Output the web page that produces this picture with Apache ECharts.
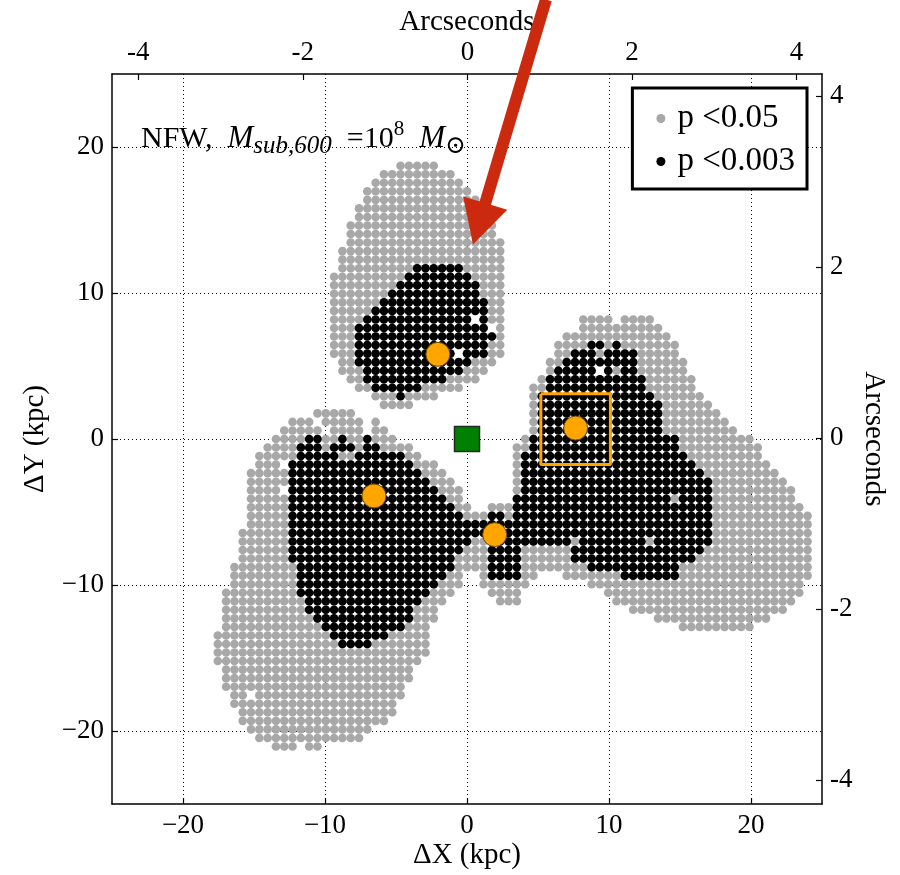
<!DOCTYPE html>
<html>
<head>
<meta charset="utf-8">
<script src="https://cdn.jsdelivr.net/npm/echarts@6/dist/echarts.min.js"></script>
<style>html,body{margin:0;padding:0;background:#fff}#c{width:900px;height:875px}</style>
</head>
<body>
<div id="c"></div>
<script>
// ---- grid cell size (kpc) of the significance map (0.1 arcsec)
const CELL = 0.585;

// gray cells (p < 0.05): [row, firstCol, lastCol]
const grayRuns = [
  [32,-8,-4],[31,-10,-2],[30,-11,-1],[29,-12,0],[28,-12,1],[27,-13,2],[26,-13,2],
  [25,-14,3],[24,-14,3],[23,-14,4],[22,-15,4],[21,-15,4],[20,-15,4],[19,-16,4],
  [18,-16,4],[17,-16,4],[16,-16,4],[15,-16,4],[14,-16,4],[13,-16,4],[12,-16,4],
  [11,-16,4],[10,-16,4],[9,-15,3],[8,-15,2],[7,-14,1],[6,-13,-1],[5,-11,-4],[4,-10,-7],
  [14,14,17],[14,19,22],[13,14,23],[12,12,24],[11,11,25],[10,11,25],[9,10,26],[8,10,26],
  [7,9,27],[6,8,27],[5,8,28],[4,8,29],[3,8,30],[2,8,31],[1,8,32],[0,7,34],[-1,6,35],
  [3,-18,-14],[2,-21,-19],[2,-17,-13],[2,-11,-11],[1,-22,-18],[1,-16,-13],[1,-11,-10],
  [0,-23,-9],[-1,-24,-7],[-2,-25,-6],[-2,6,35],[-3,-25,-4],[-3,6,36],[-4,-26,-3],[-4,6,37],
  [-5,-26,-2],[-5,6,38],[-6,-26,-1],[-6,6,39],[-7,-26,-1],[-7,6,39],[-8,-26,0],[-8,3,40],
  [-9,-26,41],[-10,-26,41],[-11,-27,41],[-12,-27,41],[-13,-27,41],[-14,-27,41],[-15,-28,41],
  [-16,-28,-1],[-16,2,8],[-16,12,41],[-17,-28,-1],[-17,2,7],[-17,15,40],
  [-18,-29,-2],[-18,3,6],[-18,17,40],[-19,-29,-3],[-19,4,6],[-19,18,39],[-20,-29,-4],[-20,20,38],
  [-21,-29,-4],[-21,23,36],[-22,-29,-5],[-22,26,34],[-23,-30,-5],[-24,-30,-5],[-25,-30,-5],
  [-26,-30,-6],[-27,-29,-7],[-28,-29,-7],[-29,-29,-8],[-30,-28,-8],[-31,-28,-9],
  [-32,-27,-9],[-33,-27,-10],[-34,-26,-12],[-35,-25,-13],[-36,-23,-21],[-36,-19,-18]
];

// black cells (p < 0.003): [row, firstCol, lastCol]
const blackRuns = [
  [20,-6,-1],[19,-7,0],[18,-8,1],[17,-9,1],[16,-10,2],[15,-11,2],[14,-12,2],[13,-13,2],
  [12,-13,3],[11,-13,2],[10,-13,2],[9,-13,0],[8,-12,-1],[7,-12,-3],[6,-11,-6],[5,-8,-8],
  [11,15,16],[11,18,18],[10,13,15],[10,17,20],[9,12,20],[8,11,20],[7,10,21],[6,10,21],
  [5,9,22],[4,9,23],[3,9,23],[2,9,23],[1,9,23],[0,8,25],[-1,8,25],[-2,7,26],
  [0,-19,-18],[0,-15,-15],[0,-12,-12],[-1,-20,-18],[-1,-16,-14],[-1,-12,-11],
  [-2,-20,-16],[-2,-13,-8],[-3,-21,-7],[-3,7,27],[-4,-21,-6],[-4,7,28],[-5,-21,-5],[-5,7,29],
  [-6,-21,-4],[-6,7,29],[-7,-21,-3],[-7,6,29],[-8,-21,-2],[-8,6,29],
  [-9,-21,-1],[-9,3,4],[-9,6,29],[-10,-21,29],[-11,-21,29],
  [-12,-21,0],[-12,3,12],[-12,14,29],[-13,-21,-1],[-13,3,6],[-13,13,28],
  [-14,-21,-2],[-14,3,6],[-14,13,27],[-15,-20,-2],[-15,3,6],[-15,15,25],
  [-16,-20,-3],[-16,3,6],[-16,19,25],[-17,-20,-4],[-18,-20,-5],[-19,-19,-6],[-20,-19,-7],
  [-21,-18,-7],[-22,-17,-8],[-23,-16,-10],[-24,-15,-12]
];

// empty cells inside the regions and gray cells inside black regions: [col, row]
const whiteHoles = [[1,14],[-1,10],[3,13],[16,8],[-22,-3],[-22,-6],[-26,-30]];
const grayHoles = [[18,8],[25,-7],[22,-12]];

// markers (kpc)
const orangePoints = [[-2.05,5.8],[-6.55,-3.9],[1.95,-6.55],[7.65,0.75]];
const greenPoints = [[0,0]];
const boxX = [5.2,10.1];
const boxY = [-1.75,3.1];
const arrowTail = [5.56,30.1];
const arrowTip = [0.42,13.33];

// tick labels
const kpcTicks = [-20,-10,0,10,20];
const arcTicks = [-4,-2,0,2,4];

const SERIF = '"Liberation Serif","DejaVu Serif",serif';

function expand(runs, skipList) {
  const skip = new Set(skipList.map(p => p[0] + ',' + p[1]));
  const pts = [];
  for (const [r, a, b] of runs) {
    for (let c = a; c <= b; c++) {
      if (skip.has(c + ',' + r)) continue;
      pts.push([c * CELL, r * CELL]);
    }
  }
  return pts;
}
const grayPts = expand(grayRuns, whiteHoles);
const blackPts = expand(blackRuns, whiteHoles.concat(grayHoles));
const boxPts = [[boxX[0],boxY[1]],[boxX[1],boxY[1]],[boxX[1],boxY[0]],[boxX[0],boxY[0]],[boxX[0],boxY[1]]];

const minusFmt = v => (v < 0 ? '\u2212' + Math.abs(v) : String(v));
const dotted = {show: true, lineStyle: {color: '#000', width: 1, type: [1, 3]}};
const axisLine = {show: true, onZero: false, lineStyle: {color: '#000', width: 1.5}};
const lab = {fontFamily: SERIF, fontSize: 27, color: '#000'};
const nameStyle = {fontFamily: SERIF, fontSize: 29, color: '#000'};

const chart = echarts.init(document.getElementById('c'), null, {renderer: 'canvas'});
chart.setOption({
  animation: false,
  backgroundColor: '#fff',
  grid: {left: 112, right: 78, top: 74, bottom: 69, containLabel: false},
  title: {
    text: '{a|NFW,  }{m|M}{s|sub,600}{a|  =10}{p|8}{a|  }{m|M}{o|\u2299}',
    left: 136, top: 114,
    textStyle: {
      fontWeight: 'normal',
      rich: {
        a: {fontFamily: SERIF, fontSize: 30, fontWeight: 'normal', color: '#000', lineHeight: 40, verticalAlign: 'middle'},
        m: {fontFamily: SERIF, fontSize: 31, fontWeight: 'normal', fontStyle: 'italic', color: '#000', lineHeight: 40, verticalAlign: 'middle'},
        s: {fontFamily: SERIF, fontSize: 25, fontWeight: 'normal', fontStyle: 'italic', color: '#000', lineHeight: 22, verticalAlign: 'bottom'},
        p: {fontFamily: SERIF, fontSize: 21, fontWeight: 'normal', color: '#000', lineHeight: 22, verticalAlign: 'top'},
        o: {fontFamily: SERIF, fontSize: 25, fontWeight: 'normal', color: '#000', lineHeight: 22, verticalAlign: 'bottom'}
      }
    }
  },
  legend: {
    data: ['p <0.05', 'p <0.003'],
    orient: 'vertical', right: 93, top: 88,
    backgroundColor: '#fff', borderColor: '#000', borderWidth: 3, borderRadius: 0,
    padding: [14, 12, 11, 24], itemGap: 10, itemWidth: 9, itemHeight: 9,
    textStyle: {fontFamily: SERIF, fontSize: 33, color: '#000', padding: [0, 0, 0, 7]}
  },
  xAxis: [
    {type: 'value', min: -25, max: 25, position: 'bottom',
     name: '\u0394X (kpc)', nameLocation: 'middle', nameGap: 37, nameMoveOverlap: false, nameTextStyle: nameStyle,
     axisLine: axisLine,
     axisTick: {show: true, inside: true, length: 6, customValues: kpcTicks, lineStyle: {color: '#000', width: 1.2}},
     axisLabel: Object.assign({customValues: kpcTicks, formatter: minusFmt, margin: 8}, lab),
     splitLine: dotted},
    {type: 'value', min: -4.32, max: 4.31, position: 'top',
     name: 'Arcseconds', nameLocation: 'middle', nameGap: 37, nameMoveOverlap: false, nameTextStyle: nameStyle,
     axisLine: axisLine,
     axisTick: {show: true, inside: true, length: 6, customValues: arcTicks, lineStyle: {color: '#000', width: 1.2}},
     axisLabel: Object.assign({customValues: arcTicks, margin: 8}, lab),
     splitLine: {show: false}}
  ],
  yAxis: [
    {type: 'value', min: -25, max: 25, position: 'left',
     name: '\u0394Y (kpc)', nameLocation: 'middle', nameGap: 62, nameRotate: 90, nameMoveOverlap: false, nameTextStyle: nameStyle,
     axisLine: axisLine,
     axisTick: {show: true, inside: true, length: 6, customValues: kpcTicks, lineStyle: {color: '#000', width: 1.2}},
     axisLabel: Object.assign({customValues: kpcTicks, formatter: minusFmt, margin: 8}, lab),
     splitLine: dotted},
    {type: 'value', min: -4.28, max: 4.26, position: 'right',
     name: 'Arcseconds', nameLocation: 'middle', nameGap: 37, nameRotate: -90, nameMoveOverlap: false, nameTextStyle: nameStyle,
     axisLine: axisLine,
     axisTick: {show: true, inside: true, length: 6, customValues: arcTicks, lineStyle: {color: '#000', width: 1.2}},
     axisLabel: Object.assign({customValues: arcTicks, margin: 8}, lab),
     splitLine: {show: false}}
  ],
  series: [
    {name: 'p <0.05', type: 'scatter', data: grayPts, symbol: 'circle', symbolSize: 8.6,
     itemStyle: {color: '#a8a8a8', opacity: 1}, large: false, progressive: 0, silent: true, z: 2},
    {name: 'p <0.003', type: 'scatter', data: blackPts, symbol: 'circle', symbolSize: 8.6,
     itemStyle: {color: '#000', opacity: 1}, large: false, progressive: 0, silent: true, z: 3},
    {type: 'line', data: boxPts, symbol: 'none', lineStyle: {color: '#ffa500', width: 3, opacity: 1}, z: 4, silent: true},
    {type: 'scatter', data: orangePoints, symbol: 'circle', symbolSize: 24,
     itemStyle: {color: '#ffa500', borderColor: '#6b4a00', borderWidth: 1, opacity: 1}, z: 5, silent: true},
    {type: 'scatter', data: greenPoints, symbol: 'rect', symbolSize: 25,
     itemStyle: {color: '#008000', borderColor: '#1b2f1b', borderWidth: 1.5, opacity: 1}, z: 5, silent: true},
    {type: 'custom', clip: false, z: 10, silent: true,
     data: [[arrowTail[0], arrowTail[1], arrowTip[0], arrowTip[1]]],
     renderItem: function (params, api) {
       const t = api.coord([api.value(0), api.value(1)]);
       const h = api.coord([api.value(2), api.value(3)]);
       const dx = h[0] - t[0], dy = h[1] - t[1];
       const len = Math.sqrt(dx * dx + dy * dy);
       const ux = dx / len, uy = dy / len;
       const headLen = 43, headHalf = 23;
       const bx = h[0] - ux * headLen, by = h[1] - uy * headLen;
       return {type: 'group', children: [
         {type: 'line', shape: {x1: t[0], y1: t[1], x2: bx + ux * 2, y2: by + uy * 2},
          style: {stroke: '#cc2a0e', lineWidth: 12}},
         {type: 'polygon', shape: {points: [[h[0], h[1]], [bx - uy * headHalf, by + ux * headHalf], [bx + uy * headHalf, by - ux * headHalf]]},
          style: {fill: '#cc2a0e'}}
       ]};
     }}
  ]
});
</script>
</body>
</html>
